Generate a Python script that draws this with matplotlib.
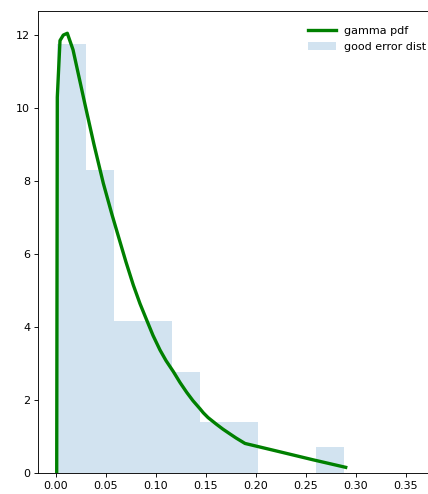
import numpy as np
import matplotlib
matplotlib.use('Agg')
import matplotlib.pyplot as plt

# histogram of the error values (density already normalised)
bin_edges = [0.0007, 0.0295, 0.0582, 0.0870, 0.1158, 0.1445, 0.1733, 0.2020, 0.2308, 0.2596, 0.2883]
bin_heights = [11.75, 8.30, 4.17, 4.17, 2.77, 1.40, 1.40, 0.0, 0.0, 0.70]

# fitted gamma pdf evaluated at sorted sample points
pdf_x = [0.0007, 0.0013, 0.0040, 0.0073, 0.0113, 0.0170, 0.0290, 0.0380, 0.0473,
         0.0560, 0.0633, 0.0700, 0.0773, 0.0840, 0.0907, 0.0970, 0.1040, 0.1100,
         0.1173, 0.1240, 0.1307, 0.1370, 0.1440, 0.1473, 0.1520, 0.1607, 0.1670,
         0.1740, 0.1800, 0.1890, 0.2240, 0.2573, 0.2897]
pdf_y = [0.0, 10.3, 11.85, 12.0, 12.05, 11.6, 10.1, 9.0, 7.94,
         7.08, 6.4, 5.78, 5.15, 4.64, 4.19, 3.77, 3.37, 3.08,
         2.78, 2.48, 2.21, 1.98, 1.76, 1.65, 1.52, 1.33, 1.2,
         1.07, 0.96, 0.81, 0.58, 0.36, 0.155]

plt.rcParams['font.size'] = 10

fig = plt.figure(figsize=(428 / 80, 494 / 80), dpi=80)
ax = fig.add_axes([38 / 428, 21 / 494, 408 / 428, 462 / 494])

ax.plot(pdf_x, pdf_y, color='green', lw=3, label='gamma pdf')
ax.hist(bin_edges[:-1], bins=bin_edges, weights=bin_heights,
        histtype='stepfilled', alpha=0.2, label='good error dist')

ax.set_xlim(-0.018, 0.39)
ax.set_ylim(0, 12.66)
ax.set_xticks(np.arange(0, 0.36, 0.05))
ax.set_xticklabels([f'{v:.2f}' for v in np.arange(0, 0.36, 0.05)])
ax.set_yticks(range(0, 13, 2))

ax.legend(frameon=False, loc='upper right', handlelength=2.5,
          bbox_to_anchor=(1.02, 0.967), bbox_transform=fig.transFigure)

fig.savefig('out.png', dpi=80)
